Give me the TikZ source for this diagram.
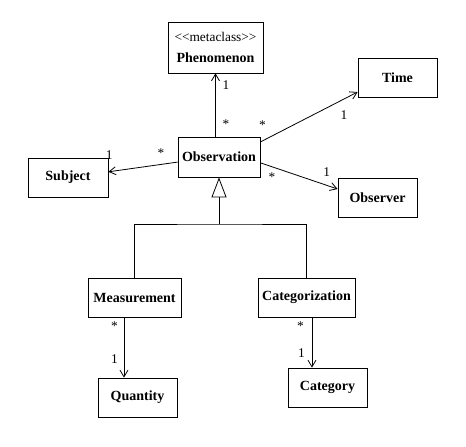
\documentclass[tikz,border=0pt]{standalone}
\usepackage{fontspec}
\setmainfont{Liberation Serif}
\usetikzlibrary{arrows.meta}
\tikzstyle{cls} = [draw, rectangle, inner sep=2pt, minimum height=29.25pt, font=\fontsize{10.5}{12.6}\selectfont\bfseries]
\tikzstyle{mult} = [inner sep=1pt, font=\fontsize{10}{12}\selectfont]
\tikzstyle{assoc} = [-{Straight Barb[length=5pt,width=6pt]}]

\begin{document}
\begin{tikzpicture}[x=0.75pt, y=-0.75pt, line width=0.6pt]
    \fill[white] (0,0) rectangle (466,446);
    \useasboundingbox (0,0) rectangle (466,446);
    \draw (215.5,47.5) node[cls, minimum width=71.25pt, minimum height=38.25pt, align=center] (phen) {{\mdseries\fontsize{10}{12}\selectfont <\kern0pt<metaclass>\kern0pt>}\\[3pt]Phenomenon};
    \draw (219,157) node[cls, minimum width=61.5pt, minimum height=30pt] (obs) {Observation};
    \draw (68,177.5) node[cls, minimum width=60pt] (subj) {Subject};
    \draw (397.5,77.5) node[cls, minimum width=59.25pt] (time) {Time};
    \draw (377.5,197.5) node[cls, minimum width=59.25pt] (obsr) {Observer};
    \draw (134.5,297.5) node[cls, minimum width=69.75pt] (meas) {Measurement};
    \draw (306.5,297.5) node[cls, minimum width=72.75pt] (categ) {Categorization};
    \draw (137.5,397.5) node[cls, minimum width=59.25pt] (qty) {Quantity};
    \draw (327.5,387.5) node[cls, minimum width=59.25pt] (cat) {Category};
    % associations
    \draw [assoc] (obs.north -| phen.south) -- node [mult, pos=.19, right=4pt] {*} node [mult, pos=.81, right=4pt] {1} (phen.south);
    \draw [assoc] (obs.187) -- node [mult, pos=.24, above=3.7pt] {*} node [mult, pos=.99, above=7.6pt] {1} (subj.8);
    \draw [assoc] (obs.20) -- node [mult, pos=.02, above=7pt] {*} node [mult, pos=.86, below=7.6pt] {1} (time.200);
    \draw [assoc] (obs.352) -- node [mult, pos=.15, below=2.9pt] {*} node [mult, pos=.86, above=5.7pt] {1} (obsr.168);
    \coordinate (mq) at ([xshift=-7.9pt]meas.south);
    \draw [assoc] (mq) -- node [mult, pos=.14, left=3.3pt] {*} node [mult, pos=.69, left=3.3pt] {1} (mq |- qty.north);
    \coordinate (cc) at ([xshift=4.1pt]categ.south);
    \draw [assoc] (cc) -- node [mult, pos=.17, left=4.8pt] {*} node [mult, pos=.71, left=4pt] {1} (cc |- cat.north);
    % generalization
    \coordinate (bar) at (219,224);
    \draw (meas.north) |- (bar) -| (categ.north);
    \draw [-{Triangle[open, length=15pt, width=11.25pt]}] (bar) -- (obs.south);
\end{tikzpicture}
\end{document}
